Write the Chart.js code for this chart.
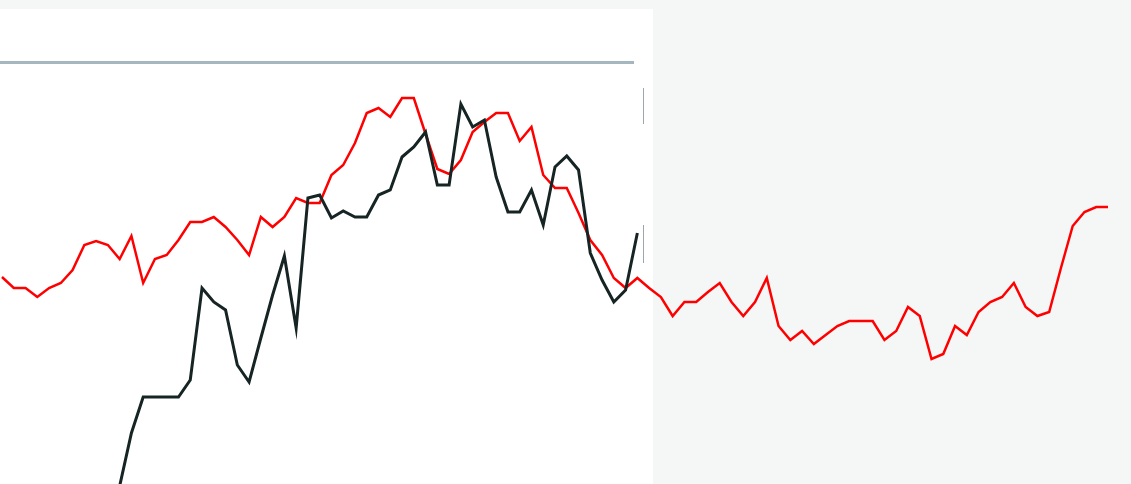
<!DOCTYPE html>
<html>
<head>
<meta charset="utf-8">
<script src="https://cdn.jsdelivr.net/npm/chart.js@4/dist/chart.umd.min.js"></script>
<style>
  html, body { margin: 0; padding: 0; background: #f5f7f7; overflow: hidden; }
  .painel { position: absolute; left: 0; top: 9px; width: 653px; height: 475px; background: #ffffff; }
  .linhaTopo { position: absolute; left: 0; top: 61px; width: 634px; height: 3px; background: #a6b6be; }
  .marca { position: absolute; left: 643px; width: 1px; background: #9aa8ae; }
  #grafico { position: absolute; left: 0; top: 0; }
</style>
</head>
<body>
<div class="painel"></div>
<div class="linhaTopo"></div>
<div class="marca" style="top:88px;height:36px"></div>
<div class="marca" style="top:225px;height:38px"></div>
<canvas id="grafico" width="1131" height="484"></canvas>
<script>
// valores (escala 0 a 422)
const rotulos = []
for (let i = 0; i < 95; i++) rotulos.push(String(i + 1))

const serieVermelha = [
    207, 196, 196, 187, 196, 201, 214, 239, 243, 239,
    225, 248, 201, 225, 229, 244, 262, 262, 267, 257,
    244, 229, 267, 257, 267, 286, 281, 281, 309, 319,
    341, 371, 376, 367, 386, 386, 350, 315, 310, 324,
    352, 362, 371, 371, 343, 357, 309, 296, 296, 271,
    244, 229, 206, 196, 206, 196, 187, 168, 182, 182,
    192, 201, 182, 168, 182, 206, 158, 144, 153, 140,
    149, 158, 163, 163, 163, 144, 153, 177, 168, 125,
    130, 158, 149, 172, 182, 187, 201, 177, 168, 172,
    216, 258, 272, 277, 277
]

const seriePreta = [
    null, null, null, null, null, null, null, null, null, null,
    -2, 51, 87, 87, 87, 87, 104, 196, 182, 174,
    119, 102, 146, 189, 228, 156, 286, 289, 266, 273,
    267, 267, 289, 294, 327, 337, 352, 299, 299, 380,
    357, 364, 307, 272, 272, 294, 259, 317, 328, 314,
    231, 204, 182, 194, 251
]

const data = {
    labels: rotulos,
    datasets: [{
        label: 'Preta',
        data: seriePreta,
        borderColor: '#162424',
        borderWidth: 3,
        pointRadius: 0,
        tension: 0,
        spanGaps: false
    }, {
        label: 'Vermelha',
        data: serieVermelha,
        borderColor: '#ff0000',
        borderWidth: 2.5,
        pointRadius: 0,
        tension: 0
    }]
}

const config = {
    type: 'line',
    data: data,
    options: {
        responsive: false,
        animation: false,
        layout: { padding: { left: 2, right: 23, top: 62, bottom: 0 } },
        plugins: {
            legend: { display: false },
            tooltip: { enabled: false }
        },
        scales: {
            x: { display: false, offset: false },
            y: { display: false, min: 0, max: 422 }
        }
    }
}

const meuGrafico = new Chart(document.getElementById('grafico'), config)
</script>
</body>
</html>
